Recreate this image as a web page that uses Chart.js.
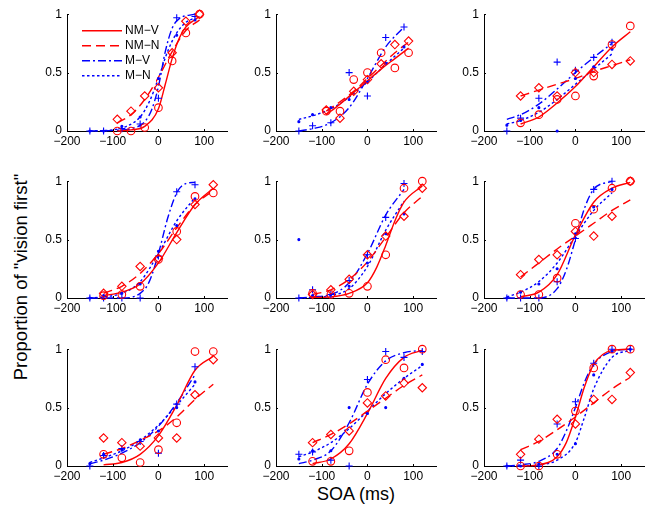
<!DOCTYPE html>
<html lang="en">
<head>
<meta charset="UTF-8">
<title>Proportion of "vision first" vs SOA</title>
<script src="https://cdn.jsdelivr.net/npm/chart.js@4.4.4/dist/chart.umd.min.js"></script>
<style>
  html, body { margin: 0; padding: 0; background: #fff; }
  body { width: 649px; height: 514px; position: relative; overflow: hidden; font-family: "Liberation Sans", Arial, sans-serif; color: #000; }
  canvas.panel { position: absolute; }
  #ylabel { position: absolute; left: 21px; top: 277px; transform: translate(-50%, -50%) rotate(-90deg); white-space: nowrap; font-size: 18.5px; }
  #xlabel { position: absolute; left: 356px; top: 494px; transform: translate(-50%, -50%); white-space: nowrap; font-size: 18px; }
</style>
</head>
<body>
<div id="ylabel">Proportion of "vision first"</div>
<div id="xlabel">SOA (ms)</div>
<script>
  // series names (legend) and axis ticks
  const seriesNames = ['NM\u2212V', 'NM\u2212N', 'M\u2212V', 'M\u2212N'];
  const xTicks = [-200, -100, 0, 100];
  const xTickLabels = ['\u2212200', '\u2212100', '0', '100'];
  const yTicks = [0, 0.5, 1];
  const yTickLabels = ['0', '0.5', '1'];

  // SOA values (ms) of the measured points, one list per panel
  const redSoa = [
    [-90, -60, -30, 0, 30, 60, 90],
    [-90, -60, -30, 0, 30, 60, 90],
    [-120, -80, -40, 0, 40, 80, 120],
    [-120, -80, -40, 0, 40, 80, 120],
    [-120, -80, -40, 0, 40, 80, 120],
    [-120, -80, -40, 0, 40, 80, 120],
    [-120, -80, -40, 0, 40, 80, 120],
    [-120, -80, -40, 0, 40, 80, 120],
    [-120, -80, -40, 0, 40, 80, 120]
  ];
  const blueSoa = [
    [-150, -120, -80, -40, 0, 40, 80],
    [-150, -120, -80, -40, 0, 40, 80],
    [-150, -120, -80, -40, 0, 40, 80],
    [-150, -120, -80, -40, 0, 40, 80],
    [-150, -120, -80, -40, 0, 40, 80],
    [-150, -120, -80, -40, 0, 40, 80],
    [-150, -120, -80, -40, 0, 40, 80],
    [-150, -120, -80, -40, 0, 40, 80, 120],
    [-150, -120, -80, -40, 0, 40, 80, 120]
  ];

  // measured proportions
  const nmvPoints = [ // red circles
    [0, 0, 0.03, 0.2, 0.6, 0.84, 1.0],
    [0.17, 0.17, 0.44, 0.5, 0.67, 0.54, 0.67],
    [0.07, 0.14, 0.27, 0.3, 0.47, 0.74, 0.9],
    [0.02, 0.03, 0.1, 0.33, 0.57, 0.87, 0.9],
    [0.04, 0.03, 0.04, 0.1, 0.37, 0.94, 1.0],
    [0.03, 0.03, 0.17, 0.64, 0.76, 0.94, 1.0],
    [0.1, 0.07, 0.03, 0.14, 0.37, 0.98, 0.98],
    [0.04, 0.04, 0.13, 0.63, 0.91, 0.84, 1.0],
    [0, 0, 0.1, 0.47, 0.84, 1.0, 1.0]
  ];
  const nmnPoints = [ // red diamonds
    [0.1, 0.17, 0.3, 0.37, 0.67, 0.94, 1.0],
    [0.18, 0.11, 0.34, 0.44, 0.575, 0.74, 0.77],
    [0.3, 0.37, 0.3, 0.5, 0.5, 0.57, 0.6],
    [0.04, 0.1, 0.27, 0.34, 0.5, 0.8, 0.97],
    [0.03, 0.07, 0.16, 0.37, 0.53, 0.7, 0.94],
    [0.2, 0.33, 0.37, 0.57, 0.53, 0.7, 1.0],
    [0.24, 0.2, 0.17, 0.24, 0.24, 0.61, 0.91],
    [0.2, 0.27, 0.3, 0.54, 0.6, 0.71, 0.67],
    [0.1, 0.23, 0.4, 0.36, 0.57, 0.57, 0.8]
  ];
  const mvPoints = [ // blue plus
    [0, 0, 0.02, 0.06, 0.28, 0.97, 0.98],
    [0, 0.045, 0.07, 0.5, 0.3, 0.8, 0.89],
    [0, 0.11, 0.28, 0.59, 0.52, 0.63, 0.76],
    [0, 0, 0, 0, 0.36, 0.91, 0.97],
    [0, 0.07, 0.03, 0.15, 0.37, 0.69, 0.98],
    [0, 0, 0, 0.14, 0.51, 0.93, 1.0],
    [0, 0.09, 0.15, 0.21, 0.11, 0.53, 0.85],
    [0.1, 0.12, 0.05, 0, 0.74, 0.98, 0.93, 0.98],
    [0, 0.05, 0, 0.36, 0.55, 0.88, 1.0, 1.0]
  ];
  const mnPoints = [ // blue dots
    [0, 0, 0.04, 0.12, 0.45, 0.82, 0.95],
    [0.08, 0.14, 0.2, 0.27, 0.42, 0.58, 0.72],
    [0.05, 0.09, 0.2, 0, 0.45, 0.55, 0.7],
    [0, 0.02, 0.04, 0.12, 0.4, 0.62, 0.85],
    [0.5, 0.02, 0.03, 0.1, 0.3, 0.55, 0.72],
    [0, 0.05, 0.12, 0.25, 0.55, 0.78, 0.93],
    [0.02, 0.1, 0.14, 0.22, 0.3, 0.5, 0.72],
    [0.06, 0.13, 0.13, 0.5, 0.45, 0.5, 0.75, 0.87],
    [0, 0, 0.02, 0.1, 0.19, 0.78, 0.98, 1.0]
  ];

  // fitted curves as [SOA, proportion]
  const nmvCurve = [
    [[-90, 0], [-60, 0.01], [-30, 0.04], [0, 0.19], [15, 0.4], [30, 0.62], [45, 0.79], [60, 0.89], [90, 0.98]],
    [[-90, 0.14], [-60, 0.23], [-30, 0.33], [0, 0.43], [30, 0.53], [60, 0.62], [90, 0.71]],
    [[-120, 0.06], [-80, 0.12], [-40, 0.24], [0, 0.38], [40, 0.55], [80, 0.72], [120, 0.85]],
    [[-120, 0.02], [-80, 0.05], [-40, 0.12], [0, 0.3], [40, 0.56], [80, 0.8], [120, 0.94]],
    [[-120, 0.005], [-80, 0.01], [-40, 0.04], [0, 0.13], [20, 0.26], [40, 0.45], [60, 0.66], [80, 0.82], [120, 0.96]],
    [[-120, 0.01], [-80, 0.05], [-40, 0.2], [0, 0.54], [40, 0.82], [80, 0.94], [120, 0.99]],
    [[-120, 0.01], [-80, 0.03], [-40, 0.1], [0, 0.26], [40, 0.52], [80, 0.82], [120, 0.94]],
    [[-120, 0.02], [-80, 0.06], [-40, 0.19], [0, 0.45], [40, 0.75], [80, 0.93], [120, 0.99]],
    [[-120, 0], [-80, 0.01], [-40, 0.08], [-20, 0.2], [0, 0.42], [20, 0.68], [40, 0.87], [80, 0.99], [120, 1.0]]
  ];
  const nmnCurve = [
    [[-90, 0.07], [-60, 0.14], [-30, 0.27], [0, 0.46], [30, 0.68], [60, 0.86], [90, 0.95]],
    [[-90, 0.17], [-60, 0.25], [-30, 0.34], [0, 0.45], [30, 0.56], [60, 0.67], [90, 0.76]],
    [[-120, 0.3], [-80, 0.35], [-40, 0.4], [0, 0.45], [40, 0.51], [80, 0.56], [120, 0.61]],
    [[-120, 0.04], [-80, 0.1], [-40, 0.21], [0, 0.38], [40, 0.6], [80, 0.8], [120, 0.92]],
    [[-120, 0.03], [-80, 0.07], [-40, 0.16], [0, 0.31], [40, 0.52], [80, 0.73], [120, 0.87]],
    [[-120, 0.18], [-80, 0.3], [-40, 0.42], [0, 0.53], [40, 0.64], [80, 0.75], [120, 0.84]],
    [[-120, 0.1], [-80, 0.15], [-40, 0.22], [0, 0.3], [40, 0.42], [80, 0.57], [120, 0.7]],
    [[-120, 0.2], [-80, 0.27], [-40, 0.36], [0, 0.47], [40, 0.58], [80, 0.69], [120, 0.78]],
    [[-120, 0.14], [-80, 0.21], [-40, 0.31], [0, 0.42], [40, 0.54], [80, 0.66], [120, 0.76]]
  ];
  const mvCurve = [
    [[-150, 0], [-100, 0.005], [-60, 0.02], [-30, 0.08], [-15, 0.18], [0, 0.38], [15, 0.68], [30, 0.88], [45, 0.96], [80, 1.0]],
    [[-150, 0], [-120, 0.02], [-80, 0.07], [-40, 0.2], [0, 0.45], [40, 0.72], [80, 0.89]],
    [[-150, 0.1], [-120, 0.14], [-80, 0.23], [-40, 0.36], [0, 0.5], [40, 0.63], [80, 0.75]],
    [[-150, 0], [-80, 0], [-40, 0.04], [-20, 0.14], [0, 0.38], [20, 0.68], [40, 0.9], [60, 0.98], [80, 0.99]],
    [[-150, 0], [-120, 0.01], [-80, 0.03], [-40, 0.13], [0, 0.38], [40, 0.71], [80, 0.93]],
    [[-150, 0], [-80, 0], [-40, 0.08], [-20, 0.24], [0, 0.5], [20, 0.77], [40, 0.93], [80, 1.0]],
    [[-150, 0.02], [-120, 0.05], [-80, 0.11], [-40, 0.2], [0, 0.34], [40, 0.54], [80, 0.78]],
    [[-150, 0.02], [-120, 0.05], [-80, 0.13], [-40, 0.37], [0, 0.7], [40, 0.9], [80, 0.97], [120, 0.99]],
    [[-150, 0], [-120, 0.01], [-80, 0.04], [-40, 0.15], [-20, 0.3], [0, 0.5], [20, 0.72], [40, 0.87], [80, 0.98], [120, 1.0]]
  ];
  const mnCurve = [
    [[-150, 0], [-100, 0.01], [-70, 0.04], [-40, 0.12], [-20, 0.25], [0, 0.45], [20, 0.68], [40, 0.84], [60, 0.93], [80, 0.97]],
    [[-150, 0.1], [-120, 0.13], [-80, 0.19], [-40, 0.29], [0, 0.42], [40, 0.57], [80, 0.71]],
    [[-150, 0.06], [-120, 0.09], [-80, 0.16], [-40, 0.27], [0, 0.4], [40, 0.53], [80, 0.66]],
    [[-150, 0], [-120, 0.01], [-80, 0.04], [-40, 0.14], [0, 0.38], [40, 0.66], [80, 0.86]],
    [[-150, 0], [-120, 0.005], [-80, 0.02], [-40, 0.08], [0, 0.27], [40, 0.58], [80, 0.83]],
    [[-150, 0.01], [-120, 0.05], [-80, 0.14], [-40, 0.3], [0, 0.53], [40, 0.75], [80, 0.9]],
    [[-150, 0.03], [-120, 0.07], [-80, 0.13], [-40, 0.22], [0, 0.35], [40, 0.52], [80, 0.7]],
    [[-150, 0.08], [-120, 0.12], [-80, 0.2], [-40, 0.32], [0, 0.47], [40, 0.62], [80, 0.75], [120, 0.86]],
    [[-150, 0], [-120, 0], [-80, 0.01], [-40, 0.05], [0, 0.2], [20, 0.42], [40, 0.66], [80, 0.93], [120, 0.99]]
  ];

  // layout of the 3x3 grid (plot area, px)
  const colLeft = [67, 276, 484];
  const rowTop = [12, 179, 347];
  const plotW = 160, plotH = 119;
  const padL = 40, padT = 10, padR = 14, padB = 24;

  const RED = '#ff0000', BLUE = '#0000ff';
  const lineStyles = [
    { color: RED, dash: [] },
    { color: RED, dash: [9, 5] },
    { color: BLUE, dash: [8, 3, 2, 3] },
    { color: BLUE, dash: [2.5, 2.5] }
  ];
  const fontFamily = '"Liberation Sans", Arial, sans-serif';

  const inwardTicks = {
    id: 'inwardTicks',
    afterDraw(chart) {
      const { ctx, chartArea: a, scales: { x, y } } = chart;
      ctx.save();
      ctx.strokeStyle = '#000';
      ctx.lineWidth = 1;
      ctx.beginPath();
      xTicks.forEach(v => {
        const px = Math.round(x.getPixelForValue(v)) + 0.5;
        ctx.moveTo(px, a.bottom); ctx.lineTo(px, a.bottom - 2);
      });
      yTicks.forEach(v => {
        const py = Math.round(y.getPixelForValue(v)) + 0.5;
        ctx.moveTo(a.left, py); ctx.lineTo(a.left + 2, py);
      });
      ctx.stroke();
      ctx.restore();
    }
  };

  const panelLegend = {
    id: 'panelLegend',
    afterDatasetsDraw(chart) {
      const { ctx, chartArea: a } = chart;
      ctx.save();
      ctx.fillStyle = '#fff';
      ctx.fillRect(a.left + 9, a.top + 6, 80, 63);
      ctx.font = '12px ' + fontFamily;
      ctx.textBaseline = 'middle';
      seriesNames.forEach((name, k) => {
        const yy = a.top + 16.5 + 15 * k;
        ctx.strokeStyle = lineStyles[k].color;
        ctx.lineWidth = 1.4;
        ctx.setLineDash(lineStyles[k].dash);
        ctx.beginPath();
        ctx.moveTo(a.left + 15, yy); ctx.lineTo(a.left + 55, yy);
        ctx.stroke();
        ctx.setLineDash([]);
        ctx.fillStyle = '#000';
        ctx.fillText(name, a.left + 58, yy);
      });
      ctx.restore();
    }
  };

  const toXY = (xs, ys) => xs.map((x, i) => ({ x: x, y: ys[i] }));
  const curveXY = c => c.map(p => ({ x: p[0], y: p[1] }));

  const curveSet = (curve, k) => ({
    type: 'line',
    data: curveXY(curve),
    borderColor: lineStyles[k].color,
    borderDash: lineStyles[k].dash,
    borderWidth: 1.4,
    pointRadius: 0,
    fill: false,
    cubicInterpolationMode: 'monotone',
    clip: false
  });

  const markerSet = (data, color, style, radius, filled) => ({
    type: 'scatter',
    data: data,
    showLine: false,
    borderColor: color,
    backgroundColor: filled ? color : 'rgba(0,0,0,0)',
    borderWidth: 1.1,
    pointStyle: style,
    pointRadius: radius,
    clip: false
  });

  for (let i = 0; i < 9; i++) {
    const L = colLeft[i % 3], T = rowTop[Math.floor(i / 3)];
    const cv = document.createElement('canvas');
    cv.className = 'panel';
    cv.width = padL + plotW + padR;
    cv.height = padT + plotH + padB;
    cv.style.left = (L - padL) + 'px';
    cv.style.top = (T - padT) + 'px';
    document.body.appendChild(cv);

    new Chart(cv.getContext('2d'), {
      data: {
        datasets: [
          markerSet(toXY(redSoa[i], nmvPoints[i]), RED, 'circle', 3.8, false),
          markerSet(toXY(redSoa[i], nmnPoints[i]), RED, 'rectRot', 4.2, false),
          markerSet(toXY(blueSoa[i], mvPoints[i]), BLUE, 'cross', 3.5, false),
          markerSet(toXY(blueSoa[i], mnPoints[i]), BLUE, 'circle', 1, true),
          curveSet(nmvCurve[i], 0),
          curveSet(nmnCurve[i], 1),
          curveSet(mvCurve[i], 2),
          curveSet(mnCurve[i], 3)
        ]
      },
      options: {
        responsive: false,
        animation: false,
        events: [],
        layout: { padding: { top: padT, left: 0, right: padR, bottom: 0 } },
        plugins: { legend: { display: false }, tooltip: { enabled: false } },
        scales: {
          x: {
            type: 'linear', min: -200, max: 150,
            afterFit: s => { s.height = padB; },
            afterBuildTicks: s => { s.ticks = xTicks.map(v => ({ value: v })); },
            ticks: {
              autoSkip: false, maxRotation: 0, padding: 3, color: '#000',
              font: { family: fontFamily, size: 12 },
              callback: v => xTickLabels[xTicks.indexOf(v)]
            },
            grid: { display: false, drawTicks: false },
            border: { display: true, color: '#000', width: 1 }
          },
          y: {
            type: 'linear', min: 0, max: 1,
            afterFit: s => { s.width = padL; },
            afterBuildTicks: s => { s.ticks = yTicks.map(v => ({ value: v })); },
            ticks: {
              autoSkip: false, padding: 5, color: '#000',
              font: { family: fontFamily, size: 12 },
              callback: v => yTickLabels[yTicks.indexOf(v)]
            },
            grid: { display: false, drawTicks: false },
            border: { display: true, color: '#000', width: 1 }
          }
        }
      },
      plugins: i === 0 ? [inwardTicks, panelLegend] : [inwardTicks]
    });
  }
</script>
</body>
</html>
